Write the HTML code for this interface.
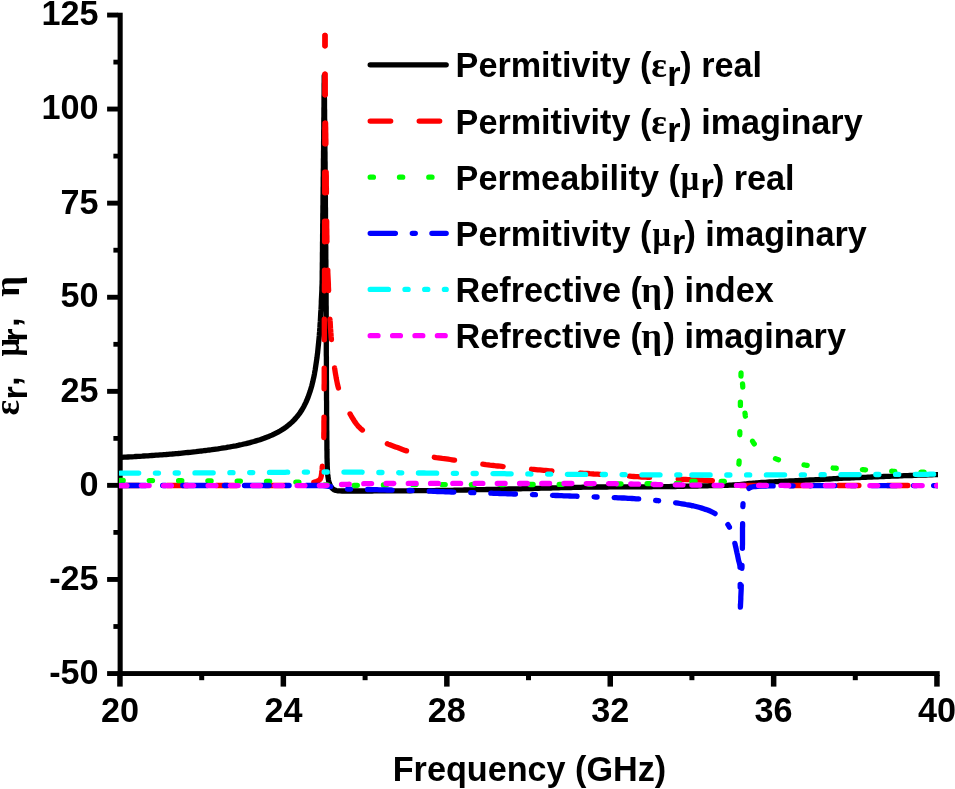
<!DOCTYPE html>
<html><head><meta charset="utf-8"><title>chart</title>
<style>
html,body{margin:0;padding:0;background:#fff;}
svg{display:block;will-change:transform;}
text{font-family:"Liberation Sans",sans-serif;font-weight:bold;font-size:34.2px;fill:#000;}
.c path{fill:none;stroke-width:5.3;stroke-linecap:round;stroke-linejoin:round;}
</style></head><body>
<svg width="955" height="789" viewBox="0 0 955 789">
<rect width="955" height="789" fill="#fff"/>
<defs><clipPath id="pc"><rect x="119" y="0" width="819" height="668"/></clipPath></defs>
<g fill="#000">
<rect x="117.6" y="12.7" width="5.1" height="663.3"/>
<rect x="117.6" y="671.1" width="822.1" height="4.9"/>
<rect x="107.1" y="671.1" width="11" height="4.9"/>
<rect x="107.1" y="577.0" width="11" height="4.9"/>
<rect x="107.1" y="482.9" width="11" height="4.9"/>
<rect x="107.1" y="388.9" width="11" height="4.9"/>
<rect x="107.1" y="294.8" width="11" height="4.9"/>
<rect x="107.1" y="200.7" width="11" height="4.9"/>
<rect x="107.1" y="106.6" width="11" height="4.9"/>
<rect x="107.1" y="12.6" width="11" height="4.9"/>
<rect x="113.4" y="624.1" width="4.6" height="4.8"/>
<rect x="113.4" y="530.0" width="4.6" height="4.8"/>
<rect x="113.4" y="436.0" width="4.6" height="4.8"/>
<rect x="113.4" y="341.9" width="4.6" height="4.8"/>
<rect x="113.4" y="247.8" width="4.6" height="4.8"/>
<rect x="113.4" y="153.7" width="4.6" height="4.8"/>
<rect x="113.4" y="59.7" width="4.6" height="4.8"/>
<rect x="117.2" y="675" width="5.5" height="11.6"/>
<rect x="280.6" y="675" width="5.5" height="11.6"/>
<rect x="444.1" y="675" width="5.5" height="11.6"/>
<rect x="607.5" y="675" width="5.5" height="11.6"/>
<rect x="770.9" y="675" width="5.5" height="11.6"/>
<rect x="934.2" y="675" width="5.5" height="11.6"/>
<rect x="199.2" y="675" width="5" height="5.2"/>
<rect x="362.6" y="675" width="5" height="5.2"/>
<rect x="526.0" y="675" width="5" height="5.2"/>
<rect x="689.4" y="675" width="5" height="5.2"/>
<rect x="852.8" y="675" width="5" height="5.2"/>
</g>
<g class="c" clip-path="url(#pc)">
<path d="M120.0,457.4 L122.0,457.3 L124.0,457.2 L126.0,457.1 L128.0,457.0 L130.0,456.9 L132.0,456.8 L134.0,456.7 L136.0,456.5 L138.0,456.4 L140.0,456.3 L142.0,456.2 L144.0,456.0 L146.0,455.9 L148.0,455.8 L150.0,455.6 L152.0,455.5 L154.0,455.4 L156.0,455.2 L158.0,455.1 L160.0,454.9 L162.0,454.8 L164.0,454.6 L166.0,454.5 L168.0,454.3 L170.0,454.1 L172.0,454.0 L174.0,453.8 L176.0,453.6 L178.0,453.5 L180.0,453.3 L182.0,453.1 L184.0,452.9 L186.0,452.7 L188.0,452.5 L190.0,452.3 L192.0,452.1 L194.0,451.9 L196.0,451.7 L198.0,451.4 L200.0,451.2 L202.0,451.0 L204.0,450.7 L206.0,450.5 L208.0,450.2 L210.0,450.0 L212.0,449.7 L214.0,449.4 L216.0,449.1 L218.0,448.9 L220.0,448.5 L222.0,448.2 L224.0,447.9 L226.0,447.6 L228.0,447.2 L230.0,446.9 L232.0,446.5 L234.0,446.1 L236.0,445.8 L238.0,445.4 L240.0,444.9 L242.0,444.5 L244.0,444.0 L246.0,443.6 L248.0,443.1 L250.0,442.6 L252.0,442.0 L254.0,441.5 L256.0,440.9 L258.0,440.3 L260.0,439.7 L262.0,439.0 L264.0,438.3 L266.0,437.5 L268.0,436.8 L270.0,435.9 L272.0,435.1 L274.0,434.1 L276.0,433.1 L278.0,432.1 L280.0,431.0 L282.0,429.8 L284.0,428.5 L286.0,427.1 L288.0,425.5 L290.0,423.9 L292.0,422.1 L294.0,420.1 L296.0,417.9 L298.0,415.5 L300.0,412.8 L302.0,409.7 L304.0,406.2 L306.0,402.1 L308.0,397.4 L310.0,391.7 L310.6,389.7 L311.2,387.7 L311.8,385.7 L312.3,383.7 L312.8,381.7 L313.2,379.7 L313.7,377.7 L314.1,375.7 L314.5,373.7 L314.8,371.7 L315.2,369.7 L315.5,367.7 L315.8,365.7 L316.1,363.7 L316.4,361.7 L316.7,359.7 L317.0,357.7 L317.2,355.7 L317.5,353.7 L317.7,351.7 L317.9,349.7 L318.1,347.7 L318.3,345.7 L318.5,343.7 L318.7,341.7 L318.9,339.7 L319.1,337.7 L319.3,335.7 L319.4,333.7 L319.6,331.7 L319.7,329.7 L319.9,327.7 L320.0,325.7 L320.1,323.7 L320.3,321.7 L320.4,319.7 L320.5,317.7 L320.6,315.7 L320.7,313.7 L320.8,311.7 L321.0,309.7 L321.1,307.7 L321.2,305.7 L321.3,303.7 L321.3,301.7 L321.4,299.7 L321.5,297.7 L321.6,295.7 L321.7,293.7 L321.8,291.7 L321.9,289.7 L321.9,287.7 L322.0,285.7 L322.1,283.7 L322.1,281.7 L322.2,279.6 L322.2,277.6 L322.2,275.6 L322.2,273.5 L322.2,271.5 L322.3,269.4 L322.3,267.4 L322.3,265.4 L322.3,263.3 L322.4,261.3 L322.4,259.3 L322.4,257.2 L322.4,255.2 L322.4,253.2 L322.5,251.1 L322.5,249.1 L322.5,247.0 L322.5,245.0 L322.5,243.0 L322.6,240.9 L322.6,238.9 L322.6,236.9 L322.6,234.8 L322.7,232.8 L322.7,230.8 L322.7,228.7 L322.7,226.7 L322.7,224.6 L322.8,222.6 L322.8,220.6 L322.8,218.5 L322.8,216.5 L322.8,214.5 L322.9,212.4 L322.9,210.4 L322.9,208.4 L322.9,206.3 L323.0,204.3 L323.0,202.2 L323.0,200.2 L323.0,198.2 L323.0,196.1 L323.1,194.1 L323.1,192.1 L323.1,190.0 L323.1,188.0 L323.2,186.0 L323.2,183.9 L323.2,181.9 L323.2,179.8 L323.2,177.8 L323.3,175.8 L323.3,173.7 L323.3,171.7 L323.3,169.7 L323.4,167.6 L323.4,165.6 L323.4,163.6 L323.4,161.5 L323.4,159.5 L323.5,157.5 L323.5,155.4 L323.5,153.4 L323.5,151.3 L323.6,149.3 L323.6,147.3 L323.6,145.2 L323.6,143.2 L323.6,141.2 L323.7,139.1 L323.7,137.1 L323.7,135.1 L323.7,133.0 L323.7,131.0 L323.8,128.9 L323.8,126.9 L323.8,124.9 L323.8,122.8 L323.8,120.8 L323.8,118.8 L323.9,116.7 L323.9,114.7 L323.9,112.7 L323.9,110.6 L323.9,108.6 L324.0,106.5 L324.0,104.5 L324.0,102.5 L324.0,100.4 L324.0,98.4 L324.0,96.4 L324.1,94.3 L324.1,92.3 L324.1,90.3 L324.1,88.2 L324.1,86.2 L324.1,84.1 L324.2,82.1 L324.2,80.1 L324.2,78.0 L324.2,76.0 L324.2,78.0 L324.2,80.0 L324.3,82.0 L324.3,84.0 L324.3,86.0 L324.3,88.0 L324.4,90.1 L324.4,92.1 L324.4,94.1 L324.4,96.1 L324.4,98.1 L324.5,100.1 L324.5,102.1 L324.5,104.1 L324.5,106.1 L324.5,108.1 L324.6,110.1 L324.6,112.1 L324.6,114.1 L324.6,116.2 L324.6,118.2 L324.7,120.2 L324.7,122.2 L324.7,124.2 L324.7,126.2 L324.7,128.2 L324.8,130.2 L324.8,132.2 L324.8,134.2 L324.8,136.2 L324.8,138.2 L324.9,140.2 L324.9,142.3 L324.9,144.3 L324.9,146.3 L324.9,148.3 L324.9,150.3 L325.0,152.3 L325.0,154.3 L325.0,156.3 L325.0,158.3 L325.0,160.3 L325.1,162.3 L325.1,164.3 L325.1,166.3 L325.1,168.4 L325.1,170.4 L325.1,172.4 L325.2,174.4 L325.2,176.4 L325.2,178.4 L325.2,180.4 L325.2,182.4 L325.2,184.4 L325.3,186.4 L325.3,188.4 L325.3,190.4 L325.3,192.4 L325.3,194.5 L325.4,196.5 L325.4,198.5 L325.4,200.5 L325.4,202.5 L325.4,204.5 L325.4,206.5 L325.5,208.5 L325.5,210.5 L325.5,212.5 L325.5,214.5 L325.5,216.5 L325.5,218.6 L325.6,220.6 L325.6,222.6 L325.6,224.6 L325.6,226.6 L325.6,228.6 L325.6,230.6 L325.7,232.6 L325.7,234.6 L325.7,236.6 L325.7,238.6 L325.7,240.6 L325.7,242.6 L325.7,244.7 L325.8,246.7 L325.8,248.7 L325.8,250.7 L325.8,252.7 L325.8,254.7 L325.8,256.7 L325.8,258.7 L325.9,260.7 L325.9,262.7 L325.9,264.7 L325.9,266.7 L325.9,268.7 L325.9,270.8 L326.0,272.8 L326.0,274.8 L326.0,276.8 L326.0,278.8 L326.0,280.8 L326.0,282.8 L326.0,284.8 L326.0,286.8 L326.1,288.8 L326.1,290.8 L326.1,292.8 L326.1,294.8 L326.1,296.9 L326.1,298.9 L326.1,300.9 L326.1,302.9 L326.1,304.9 L326.2,306.9 L326.2,308.9 L326.2,310.9 L326.2,312.9 L326.2,314.9 L326.2,316.9 L326.2,318.9 L326.2,321.0 L326.2,323.0 L326.2,325.0 L326.2,327.0 L326.2,329.0 L326.3,331.0 L326.3,333.0 L326.3,335.0 L326.3,337.0 L326.3,339.0 L326.3,341.0 L326.3,343.0 L326.3,345.0 L326.3,347.1 L326.3,349.1 L326.3,351.1 L326.3,353.1 L326.3,355.1 L326.4,357.1 L326.4,359.1 L326.4,361.1 L326.4,363.1 L326.4,365.1 L326.4,367.1 L326.4,369.1 L326.4,371.1 L326.4,373.2 L326.4,375.2 L326.4,377.2 L326.4,379.2 L326.5,381.2 L326.5,383.2 L326.5,385.2 L326.5,387.2 L326.5,389.2 L326.5,391.2 L326.5,393.2 L326.5,395.2 L326.5,397.3 L326.5,399.3 L326.6,401.3 L326.6,403.3 L326.6,405.3 L326.6,407.3 L326.6,409.3 L326.6,411.3 L326.6,413.3 L326.6,415.3 L326.7,417.3 L326.7,419.3 L326.7,421.3 L326.7,423.4 L326.7,425.4 L326.7,427.4 L326.7,429.4 L326.8,431.4 L326.8,433.4 L326.8,435.4 L326.8,437.4 L326.8,439.4 L326.9,441.4 L326.9,443.4 L326.9,445.4 L326.9,447.4 L326.9,449.4 L327.0,451.5 L327.0,453.5 L327.0,455.5 L327.0,457.5 L327.1,459.5 L327.1,461.5 L327.2,463.5 L327.2,465.5 L327.3,467.5 L327.4,469.5 L327.5,471.5 L327.6,473.5 L327.8,475.5 L328.1,477.5 L328.4,479.5 L328.8,481.5 L329.4,483.4 L330.2,485.3 L331.2,487.0 L332.5,488.6 L334.1,489.7 L336.0,490.5 L338.0,490.8 L340.0,490.9 L342.0,491.0 L344.0,491.0 L346.0,491.0 L348.0,491.0 L350.1,491.0 L352.1,491.0 L354.1,491.0 L356.1,491.0 L358.1,491.0 L360.1,491.0 L362.1,491.0 L364.1,491.0 L366.1,491.0 L368.1,491.0 L370.1,491.0 L372.1,491.0 L374.1,490.9 L376.2,490.9 L378.2,490.9 L380.2,490.9 L382.2,490.9 L384.2,490.9 L386.2,490.9 L388.2,490.9 L390.2,490.9 L392.2,490.9 L394.2,490.9 L396.2,490.8 L398.2,490.8 L400.2,490.8 L402.3,490.8 L404.3,490.8 L406.3,490.8 L408.3,490.8 L410.3,490.8 L412.3,490.7 L414.3,490.7 L416.3,490.7 L418.3,490.7 L420.3,490.7 L422.3,490.7 L424.3,490.7 L426.3,490.6 L428.4,490.6 L430.4,490.6 L432.4,490.6 L434.4,490.6 L436.4,490.5 L438.4,490.5 L440.4,490.5 L442.4,490.4 L444.4,490.4 L446.4,490.4 L448.4,490.3 L450.4,490.3 L452.4,490.3 L454.5,490.2 L456.5,490.2 L458.5,490.1 L460.5,490.1 L462.5,490.1 L464.5,490.0 L466.5,490.0 L468.5,489.9 L470.5,489.9 L472.5,489.8 L474.5,489.8 L476.5,489.7 L478.5,489.7 L480.6,489.7 L482.6,489.6 L484.6,489.6 L486.6,489.5 L488.6,489.5 L490.6,489.4 L492.6,489.4 L494.6,489.3 L496.6,489.3 L498.6,489.2 L500.6,489.2 L502.6,489.2 L504.6,489.1 L506.6,489.1 L508.7,489.0 L510.7,489.0 L512.7,488.9 L514.7,488.9 L516.7,488.9 L518.7,488.8 L520.7,488.8 L522.7,488.7 L524.7,488.7 L526.7,488.6 L528.7,488.6 L530.7,488.5 L532.7,488.5 L534.8,488.4 L536.8,488.3 L538.8,488.3 L540.8,488.2 L542.8,488.2 L544.8,488.1 L546.8,488.1 L548.8,488.0 L550.8,488.0 L552.8,487.9 L554.8,487.9 L556.8,487.8 L558.8,487.8 L560.8,487.7 L562.9,487.7 L564.9,487.6 L566.9,487.6 L568.9,487.5 L570.9,487.5 L572.9,487.4 L574.9,487.4 L576.9,487.3 L578.9,487.3 L580.9,487.3 L582.9,487.2 L584.9,487.2 L586.9,487.2 L588.9,487.1 L591.0,487.1 L593.0,487.1 L595.0,487.0 L597.0,487.0 L599.0,487.0 L601.0,487.0 L603.0,487.0 L605.0,487.0 L607.0,487.0 L609.0,486.9 L611.0,486.9 L613.0,486.9 L615.0,486.9 L617.1,486.9 L619.1,486.9 L621.1,486.9 L623.1,486.9 L625.1,486.9 L627.1,486.9 L629.1,486.9 L631.1,486.8 L633.1,486.8 L635.1,486.8 L637.1,486.8 L639.1,486.8 L641.2,486.8 L643.2,486.8 L645.2,486.8 L647.2,486.8 L649.2,486.8 L651.2,486.8 L653.2,486.7 L655.2,486.7 L657.2,486.7 L659.2,486.7 L661.2,486.7 L663.2,486.7 L665.2,486.6 L667.3,486.6 L669.3,486.6 L671.3,486.5 L673.3,486.5 L675.3,486.5 L677.3,486.4 L679.3,486.4 L681.3,486.3 L683.3,486.3 L685.3,486.2 L687.3,486.2 L689.3,486.1 L691.3,486.1 L693.3,486.1 L695.4,486.0 L697.4,486.0 L699.4,485.9 L701.4,485.9 L703.4,485.8 L705.4,485.8 L707.4,485.8 L709.4,485.7 L711.4,485.7 L713.4,485.6 L715.4,485.6 L717.4,485.6 L719.5,485.5 L721.5,485.5 L723.5,485.4 L725.5,485.4 L727.5,485.3 L729.5,485.2 L731.5,485.1 L733.5,485.0 L735.5,484.9 L737.5,484.7 L739.5,484.6 L741.5,484.4 L743.5,484.2 L745.5,484.0 L747.5,483.7 L749.5,483.5 L751.5,483.3 L753.5,483.1 L755.5,483.0 L757.5,482.8 L759.5,482.6 L761.5,482.5 L763.5,482.4 L765.5,482.3 L767.5,482.1 L769.5,482.0 L771.5,481.9 L773.5,481.8 L775.5,481.7 L777.5,481.6 L779.5,481.5 L781.5,481.4 L783.5,481.3 L785.5,481.2 L787.6,481.1 L789.6,481.0 L791.6,480.9 L793.6,480.8 L795.6,480.7 L797.6,480.6 L799.6,480.5 L801.6,480.4 L803.6,480.3 L805.6,480.2 L807.6,480.1 L809.6,480.0 L811.6,479.9 L813.6,479.8 L815.6,479.7 L817.6,479.6 L819.6,479.5 L821.6,479.4 L823.6,479.3 L825.7,479.2 L827.7,479.1 L829.7,479.0 L831.7,478.9 L833.7,478.7 L835.7,478.6 L837.7,478.5 L839.7,478.4 L841.7,478.3 L843.7,478.2 L845.7,478.2 L847.7,478.1 L849.7,478.0 L851.7,477.9 L853.7,477.8 L855.7,477.7 L857.7,477.6 L859.7,477.5 L861.8,477.4 L863.8,477.3 L865.8,477.3 L867.8,477.2 L869.8,477.1 L871.8,477.0 L873.8,476.9 L875.8,476.8 L877.8,476.8 L879.8,476.7 L881.8,476.6 L883.8,476.5 L885.8,476.4 L887.8,476.4 L889.8,476.3 L891.8,476.2 L893.9,476.1 L895.9,476.0 L897.9,476.0 L899.9,475.9 L901.9,475.8 L903.9,475.7 L905.9,475.7 L907.9,475.6 L909.9,475.5 L911.9,475.5 L913.9,475.4 L915.9,475.3 L917.9,475.2 L919.9,475.2 L921.9,475.1 L924.0,475.0 L926.0,475.0 L928.0,474.9 L930.0,474.8 L932.0,474.8 L934.0,474.7 L936.0,474.7 L938.0,474.6" stroke="#000"/>
<path d="M325.0,35.5 L325.0,37.5 L325.0,39.5 L325.0,41.5 L325.0,43.5 L325.0,45.6 L325.0,47.6 L325.0,49.6 L325.0,51.6 L325.0,53.6 L325.0,55.6 L325.0,57.6 L325.0,59.6 L325.0,61.6 L325.0,63.6 L325.0,65.7 L325.0,67.7 L325.0,69.7 L325.0,71.7 L324.9,73.7 L324.9,75.7 L324.9,77.7 L324.9,79.7 L324.9,81.7 L324.9,83.7 L324.9,85.8 L324.9,87.8 L324.9,89.8 L324.9,91.8 L324.9,93.8 L324.9,95.8 L324.9,97.8 L324.9,99.8 L324.9,101.8 L324.9,103.9 L324.9,105.9 L324.9,107.9 L324.9,109.9 L324.9,111.9 L324.9,113.9 L324.9,115.9 L324.9,117.9 L324.9,119.9 L324.9,121.9 L324.9,124.0 L324.9,126.0 L324.8,128.0 L324.8,130.0 L324.8,132.0 L324.8,134.0 L324.8,136.0 L324.8,138.0 L324.8,140.0 L324.8,142.0 L324.8,144.1 L324.8,146.1 L324.8,148.1 L324.8,150.1 L324.8,152.1 L324.8,154.1 L324.8,156.1 L324.8,158.1 L324.8,160.1 L324.8,162.2 L324.8,164.2 L324.8,166.2 L324.8,168.2 L324.8,170.2 L324.7,172.2 L324.7,174.2 L324.7,176.2 L324.7,178.2 L324.7,180.2 L324.7,182.3 L324.7,184.3 L324.7,186.3 L324.7,188.3 L324.7,190.3 L324.7,192.3 L324.7,194.3 L324.7,196.3 L324.7,198.3 L324.7,200.3 L324.7,202.4 L324.7,204.4 L324.7,206.4 L324.7,208.4 L324.7,210.4 L324.6,212.4 L324.6,214.4 L324.6,216.4 L324.6,218.4 L324.6,220.5 L324.6,222.5 L324.6,224.5 L324.6,226.5 L324.6,228.5 L324.6,230.5 L324.6,232.5 L324.6,234.5 L324.6,236.5 L324.6,238.5 L324.6,240.6 L324.6,242.6 L324.6,244.6 L324.6,246.6 L324.5,248.6 L324.5,250.6 L324.5,252.6 L324.5,254.6 L324.5,256.6 L324.5,258.6 L324.5,260.7 L324.5,262.7 L324.5,264.7 L324.5,266.7 L324.5,268.7 L324.5,270.7 L324.5,272.7 L324.5,274.7 L324.5,276.7 L324.5,278.7 L324.5,280.8 L324.5,282.8 L324.4,284.8 L324.4,286.8 L324.4,288.8 L324.4,290.8 L324.4,292.8 L324.4,294.8 L324.4,296.8 L324.4,298.9 L324.4,300.9 L324.4,302.9 L324.4,304.9 L324.4,306.9 L324.4,308.9 L324.4,310.9 L324.4,312.9 L324.4,314.9 L324.4,316.9 L324.3,319.0 L324.3,321.0 L324.3,323.0 L324.3,325.0 L324.3,327.0 L324.3,329.0 L324.3,331.0 L324.3,333.0 L324.3,335.0 L324.3,337.0 L324.3,339.1 L324.3,341.1 L324.3,343.1 L324.3,345.1 L324.3,347.1 L324.3,349.1 L324.3,351.1 L324.3,353.1 L324.3,355.1 L324.2,357.2 L324.2,359.2 L324.2,361.2 L324.2,363.2 L324.2,365.2 L324.2,367.2 L324.2,369.2 L324.2,371.2 L324.2,373.2 L324.2,375.2 L324.2,377.3 L324.2,379.3 L324.2,381.3 L324.2,383.3 L324.1,385.3 L324.1,387.3 L324.1,389.3 L324.1,391.3 L324.1,393.3 L324.1,395.4 L324.1,397.4 L324.1,399.4 L324.1,401.4 L324.1,403.4 L324.0,405.4 L324.0,407.4 L324.0,409.4 L324.0,411.4 L324.0,413.4 L324.0,415.5 L324.0,417.5 L324.0,419.5 L323.9,421.5 L323.9,423.5 L323.9,425.5 L323.9,427.5 L323.9,429.5 L323.9,431.5 L323.8,433.5 L323.8,435.6 L323.8,437.6 L323.7,439.6 L323.7,441.6 L323.6,443.6 L323.6,445.6 L323.5,447.6 L323.5,449.6 L323.4,451.6 L323.4,453.6 L323.3,455.6 L323.1,457.7 L322.9,459.7 L322.7,461.7 L322.5,463.7 L322.3,465.7 L322.2,467.7 L322.1,469.7 L321.9,471.7 L321.6,473.7 L321.3,475.8 L320.8,477.8 L320.1,479.4 L318.4,480.6 L316.5,481.5 L314.6,482.1 L312.7,482.7 L310.7,483.2 L308.8,483.7 L306.8,484.3 L304.9,484.8 L302.9,485.2 L300.9,485.5 L298.9,485.5 L297.0,485.5 L295.0,485.5 L293.0,485.5 L291.0,485.5 L289.0,485.5 L287.0,485.5 L285.1,485.5 L283.1,485.5 L281.1,485.5 L279.1,485.5 L277.1,485.5 L275.1,485.5 L273.2,485.5 L271.2,485.5 L269.2,485.5 L267.2,485.5 L265.2,485.5 L263.2,485.5 L261.2,485.5 L259.2,485.5 L257.3,485.5 L255.3,485.5 L253.3,485.5 L251.3,485.5 L249.3,485.5 L247.3,485.5 L245.3,485.5 L243.3,485.5 L241.3,485.5 L239.3,485.5 L237.3,485.5 L235.3,485.5 L233.3,485.5 L231.3,485.5 L229.3,485.5 L227.3,485.5 L225.3,485.5 L223.3,485.5 L221.3,485.5 L219.3,485.5 L217.3,485.5 L215.3,485.5 L213.3,485.5 L211.3,485.5 L209.3,485.5 L207.3,485.5 L205.3,485.5 L203.3,485.5 L201.3,485.5 L199.2,485.5 L197.2,485.5 L195.2,485.5 L193.2,485.5 L191.2,485.5 L189.2,485.5 L187.2,485.5 L185.1,485.5 L183.1,485.5 L181.1,485.5 L179.1,485.5 L177.1,485.5 L175.0,485.5 L173.0,485.5 L171.0,485.5 L169.0,485.5 L166.9,485.5 L164.9,485.5 L162.9,485.5 L160.8,485.5 L158.8,485.5 L156.8,485.5 L154.7,485.5 L152.7,485.5 L150.7,485.5 L148.6,485.5 L146.6,485.5 L144.6,485.5 L142.5,485.5 L140.5,485.5 L138.4,485.5 L136.4,485.5 L134.3,485.5 L132.3,485.5 L130.3,485.5 L128.2,485.5 L126.2,485.5 L124.1,485.5 L122.1,485.5 L120.0,485.5" stroke="#f00" stroke-dasharray="20.5 28.5" stroke-dashoffset="10.25"/>
<path d="M325.0,35.5 L325.0,37.5 L325.0,39.5 L325.0,41.5 L325.0,43.5 L325.0,45.5 L325.0,47.5 L325.0,49.5 L325.0,51.5 L325.0,53.6 L325.0,55.6 L325.0,57.6 L325.1,59.6 L325.1,61.6 L325.1,63.6 L325.1,65.6 L325.1,67.6 L325.1,69.6 L325.1,71.6 L325.1,73.6 L325.1,75.6 L325.1,77.6 L325.2,79.6 L325.2,81.6 L325.2,83.6 L325.2,85.6 L325.2,87.6 L325.2,89.7 L325.2,91.7 L325.3,93.7 L325.3,95.7 L325.3,97.7 L325.3,99.7 L325.3,101.7 L325.3,103.7 L325.4,105.7 L325.4,107.7 L325.4,109.7 L325.4,111.7 L325.4,113.7 L325.5,115.7 L325.5,117.7 L325.5,119.7 L325.6,121.7 L325.6,123.7 L325.6,125.8 L325.7,127.8 L325.7,129.8 L325.7,131.8 L325.8,133.8 L325.8,135.8 L325.8,137.8 L325.9,139.8 L325.9,141.8 L325.9,143.8 L325.9,145.8 L326.0,147.8 L326.0,149.8 L326.0,151.8 L326.0,153.8 L326.1,155.8 L326.1,157.8 L326.1,159.8 L326.1,161.9 L326.2,163.9 L326.2,165.9 L326.2,167.9 L326.2,169.9 L326.2,171.9 L326.2,173.9 L326.3,175.9 L326.3,177.9 L326.3,179.9 L326.3,181.9 L326.3,183.9 L326.3,185.9 L326.4,187.9 L326.4,189.9 L326.4,191.9 L326.4,193.9 L326.4,195.9 L326.4,198.0 L326.5,200.0 L326.5,202.0 L326.5,204.0 L326.5,206.0 L326.5,208.0 L326.5,210.0 L326.6,212.0 L326.6,214.0 L326.6,216.0 L326.6,218.0 L326.7,220.0 L326.7,222.0 L326.7,224.0 L326.7,226.0 L326.7,228.0 L326.8,230.0 L326.8,232.0 L326.8,234.1 L326.9,236.1 L326.9,238.1 L326.9,240.1 L327.0,242.1 L327.0,244.1 L327.0,246.1 L327.1,248.1 L327.1,250.1 L327.2,252.1 L327.2,254.1 L327.3,256.1 L327.3,258.1 L327.4,260.1 L327.5,262.1 L327.5,264.1 L327.6,266.1 L327.7,268.1 L327.8,270.1 L327.8,272.1 L327.9,274.1 L328.0,276.2 L328.1,278.2 L328.2,280.2 L328.3,282.2 L328.4,284.2 L328.4,286.2 L328.5,288.2 L328.6,290.2 L328.7,292.2 L328.8,294.2 L328.9,296.2 L329.0,298.2 L329.1,300.2 L329.1,302.2 L329.2,304.2 L329.3,306.2 L329.4,308.2 L329.5,310.2 L329.6,312.2 L329.7,314.2 L329.8,316.2 L329.9,318.2 L330.0,320.2 L330.2,322.2 L330.3,324.2 L330.4,326.2 L330.5,328.2 L330.7,330.2 L330.8,332.2 L331.0,334.2 L331.1,336.2 L331.3,338.2 L331.5,340.2 L331.6,342.2 L331.8,344.2 L332.0,346.2 L332.2,348.2 L332.4,350.2 L332.6,352.2 L332.9,354.2 L333.1,356.2 L333.3,358.2 L333.6,360.2 L333.8,362.2 L334.1,364.2 L334.4,366.2 L334.6,368.1 L334.9,370.1 L335.2,372.1 L335.5,374.1 L335.9,376.1 L336.2,378.1 L336.6,380.1 L337.0,382.0 L337.4,384.0 L337.9,386.0 L338.4,387.9 L338.9,389.8 L339.4,391.7 L340.1,393.6 L340.8,395.4 L341.5,397.3 L342.3,399.2 L343.2,401.0 L344.0,402.8 L344.9,404.7 L345.9,406.5 L346.8,408.2 L347.8,410.0 L348.8,411.8 L349.8,413.5 L350.8,415.2 L351.8,417.0 L352.9,418.7 L354.0,420.5 L355.1,422.2 L356.3,423.8 L357.6,425.4 L358.9,426.9 L360.2,428.2 L361.6,429.4 L363.1,430.6 L364.7,431.8 L366.3,432.9 L368.0,434.0 L369.7,435.1 L371.5,436.1 L373.3,437.1 L375.2,438.1 L377.0,439.0 L378.9,439.9 L380.7,440.8 L382.6,441.7 L384.4,442.5 L386.2,443.3 L388.1,444.1 L389.9,444.8 L391.8,445.5 L393.7,446.2 L395.6,446.9 L397.5,447.6 L399.4,448.3 L401.2,449.0 L403.1,449.7 L405.0,450.4 L406.9,451.0 L408.8,451.5 L410.8,452.1 L412.7,452.6 L414.6,453.1 L416.6,453.6 L418.5,454.1 L420.5,454.6 L422.5,455.0 L424.4,455.4 L426.4,455.9 L428.4,456.2 L430.3,456.6 L432.3,457.0 L434.3,457.3 L436.3,457.6 L438.2,457.8 L440.2,458.1 L442.2,458.4 L444.2,458.6 L446.2,458.9 L448.2,459.2 L450.2,459.5 L452.2,459.8 L454.1,460.1 L456.1,460.4 L458.1,460.6 L460.1,460.9 L462.1,461.2 L464.1,461.5 L466.0,461.8 L468.0,462.1 L470.0,462.4 L472.0,462.7 L474.0,463.0 L476.0,463.3 L478.0,463.5 L479.9,463.8 L481.9,464.1 L483.9,464.3 L485.9,464.6 L487.9,464.8 L489.9,465.1 L491.9,465.3 L493.9,465.5 L495.9,465.8 L497.9,466.0 L499.9,466.2 L501.8,466.4 L503.8,466.6 L505.8,466.8 L507.8,467.0 L509.8,467.2 L511.8,467.4 L513.8,467.6 L515.8,467.8 L517.8,468.0 L519.8,468.2 L521.8,468.4 L523.8,468.6 L525.8,468.7 L527.8,468.9 L529.8,469.1 L531.8,469.3 L533.8,469.4 L535.8,469.6 L537.8,469.8 L539.8,469.9 L541.8,470.1 L543.8,470.3 L545.8,470.4 L547.8,470.6 L549.8,470.8 L551.8,470.9 L553.8,471.1 L555.8,471.2 L557.8,471.4 L559.8,471.5 L561.8,471.7 L563.8,471.8 L565.8,472.0 L567.8,472.1 L569.8,472.3 L571.8,472.4 L573.8,472.6 L575.8,472.7 L577.8,472.9 L579.8,473.0 L581.8,473.1 L583.8,473.3 L585.8,473.4 L587.8,473.5 L589.8,473.7 L591.8,473.8 L593.8,474.0 L595.8,474.1 L597.8,474.2 L599.8,474.4 L601.8,474.5 L603.8,474.6 L605.8,474.7 L607.8,474.9 L609.8,475.0 L611.8,475.1 L613.8,475.3 L615.8,475.4 L617.8,475.5 L619.8,475.6 L621.8,475.8 L623.8,475.9 L625.8,476.0 L627.8,476.1 L629.8,476.2 L631.8,476.4 L633.8,476.5 L635.8,476.6 L637.8,476.7 L639.8,476.9 L641.8,477.0 L643.8,477.1 L645.8,477.2 L647.8,477.3 L649.8,477.4 L651.8,477.6 L653.9,477.7 L655.9,477.8 L657.9,477.9 L659.9,478.0 L661.9,478.1 L663.9,478.3 L665.9,478.4 L667.9,478.5 L669.9,478.6 L671.9,478.7 L673.9,478.8 L675.9,478.9 L677.9,479.0 L679.9,479.1 L681.9,479.3 L683.9,479.4 L685.9,479.5 L687.9,479.6 L689.9,479.7 L691.9,479.8" stroke="#f00" stroke-dasharray="20.5 28.5" stroke-dashoffset="10.25"/>
<path d="M691.9,479.8 L693.9,479.9 L695.9,479.9 L698.0,480.0 L700.0,480.1 L702.0,480.2 L704.0,480.3 L706.0,480.4 L708.1,480.5 L710.1,480.6 L712.1,480.7 L714.1,480.9 L716.1,481.2 L718.1,481.5 L720.1,481.8 L722.1,482.2 L724.1,482.7 L726.0,483.2 L728.0,483.7 L729.9,484.2 L731.9,484.6 L733.9,484.9 L735.9,485.1 L737.9,485.4 L739.9,485.5 L742.0,485.5 L744.0,485.5 L746.0,485.5 L748.0,485.5 L750.0,485.5 L752.0,485.5 L754.0,485.5 L756.1,485.5 L758.1,485.5 L760.1,485.5 L762.1,485.5 L764.1,485.5 L766.1,485.5 L768.2,485.5 L770.2,485.5 L772.2,485.5 L774.2,485.5 L776.2,485.5 L778.2,485.5 L780.3,485.5 L782.3,485.5 L784.3,485.5 L786.3,485.5 L788.3,485.5 L790.3,485.5 L792.3,485.5 L794.4,485.5 L796.4,485.5 L798.4,485.5 L800.4,485.5 L802.4,485.5 L804.5,485.5 L806.5,485.5 L808.5,485.5 L810.5,485.5 L812.5,485.5 L814.5,485.5 L816.6,485.5 L818.6,485.5 L820.6,485.5 L822.6,485.5 L824.6,485.5 L826.7,485.5 L828.7,485.5 L830.7,485.5 L832.7,485.5 L834.7,485.5 L836.8,485.5 L838.8,485.5 L840.8,485.5 L842.8,485.5 L844.8,485.5 L846.9,485.5 L848.9,485.5 L850.9,485.5 L852.9,485.5 L854.9,485.5 L857.0,485.5 L859.0,485.5 L861.0,485.5 L863.0,485.5 L865.1,485.5 L867.1,485.5 L869.1,485.5 L871.1,485.5 L873.1,485.5 L875.2,485.5 L877.2,485.5 L879.2,485.5 L881.2,485.5 L883.3,485.5 L885.3,485.5 L887.3,485.5 L889.3,485.5 L891.4,485.5 L893.4,485.5 L895.4,485.5 L897.4,485.5 L899.5,485.5 L901.5,485.5 L903.5,485.5 L905.5,485.5 L907.6,485.5 L909.6,485.5 L911.6,485.5 L913.7,485.5 L915.7,485.5 L917.7,485.5 L919.7,485.5 L921.8,485.5 L923.8,485.5 L925.8,485.5 L927.9,485.5 L929.9,485.5 L931.9,485.5 L933.9,485.5 L936.0,485.5 L938.0,485.5" stroke="#f00" stroke-dasharray="20.5 28.5" stroke-dashoffset="0"/>
<path d="M120.0,480.5 L122.0,480.5 L124.0,480.5 L126.0,480.5 L128.0,480.5 L130.0,480.5 L132.0,480.5 L134.1,480.5 L136.1,480.5 L138.1,480.5 L140.1,480.5 L142.1,480.5 L144.1,480.6 L146.1,480.6 L148.1,480.6 L150.1,480.6 L152.1,480.6 L154.1,480.6 L156.1,480.6 L158.1,480.6 L160.1,480.6 L162.2,480.6 L164.2,480.6 L166.2,480.6 L168.2,480.6 L170.2,480.7 L172.2,480.7 L174.2,480.7 L176.2,480.7 L178.2,480.7 L180.2,480.7 L182.2,480.7 L184.2,480.7 L186.2,480.7 L188.3,480.7 L190.3,480.7 L192.3,480.8 L194.3,480.8 L196.3,480.8 L198.3,480.8 L200.3,480.8 L202.3,480.8 L204.3,480.8 L206.3,480.8 L208.3,480.8 L210.3,480.9 L212.3,480.9 L214.4,480.9 L216.4,480.9 L218.4,480.9 L220.4,480.9 L222.4,480.9 L224.4,481.0 L226.4,481.0 L228.4,481.0 L230.4,481.0 L232.4,481.0 L234.4,481.0 L236.4,481.1 L238.4,481.1 L240.4,481.1 L242.5,481.1 L244.5,481.1 L246.5,481.1 L248.5,481.2 L250.5,481.2 L252.5,481.2 L254.5,481.2 L256.5,481.3 L258.5,481.3 L260.5,481.3 L262.5,481.3 L264.5,481.4 L266.5,481.4 L268.6,481.4 L270.6,481.5 L272.6,481.5 L274.6,481.5 L276.6,481.6 L278.6,481.6 L280.6,481.6 L282.6,481.7 L284.6,481.7 L286.6,481.8 L288.6,481.8 L290.6,481.9 L292.6,482.0 L294.6,482.0 L296.6,482.1 L298.7,482.1 L300.7,482.2 L302.7,482.3 L304.7,482.4 L306.7,482.5 L308.7,482.6 L310.7,482.7 L312.7,482.8 L314.7,483.0 L316.7,483.2 L318.6,483.6 L320.6,484.1 L322.6,484.5 L324.6,484.8 L326.6,485.0 L328.6,485.2 L330.6,485.4 L332.6,485.4 L334.6,485.4 L336.6,485.4 L338.6,485.4 L340.6,485.4 L342.6,485.4 L344.6,485.4 L346.6,485.3 L348.6,485.3 L350.6,485.3 L352.6,485.3 L354.7,485.3 L356.7,485.3 L358.7,485.3 L360.7,485.3 L362.7,485.2 L364.7,485.2 L366.7,485.2 L368.7,485.2 L370.7,485.1 L372.7,485.1 L374.7,485.1 L376.7,485.1 L378.7,485.0 L380.7,485.0 L382.8,485.0 L384.8,485.0 L386.8,484.9 L388.8,484.9 L390.8,484.9 L392.8,484.8 L394.8,484.8 L396.8,484.8 L398.8,484.8 L400.8,484.7 L402.8,484.7 L404.8,484.7 L406.8,484.7 L408.8,484.7 L410.9,484.6 L412.9,484.6 L414.9,484.6 L416.9,484.6 L418.9,484.6 L420.9,484.6 L422.9,484.6 L424.9,484.6 L426.9,484.6 L428.9,484.6 L430.9,484.6 L432.9,484.6 L434.9,484.6 L437.0,484.6 L439.0,484.6 L441.0,484.6 L443.0,484.6 L445.0,484.6 L447.0,484.6 L449.0,484.6 L451.0,484.6 L453.0,484.6 L455.0,484.6 L457.0,484.6 L459.0,484.6 L461.0,484.6 L463.1,484.6 L465.1,484.6 L467.1,484.6 L469.1,484.6 L471.1,484.6 L473.1,484.5 L475.1,484.5 L477.1,484.5 L479.1,484.5 L481.1,484.5 L483.1,484.5 L485.1,484.5 L487.1,484.5 L489.1,484.5 L491.2,484.5 L493.2,484.5 L495.2,484.5 L497.2,484.5 L499.2,484.5 L501.2,484.5 L503.2,484.5 L505.2,484.5 L507.2,484.5 L509.2,484.5 L511.2,484.5 L513.2,484.5 L515.2,484.5 L517.3,484.5 L519.3,484.5 L521.3,484.5 L523.3,484.5 L525.3,484.5 L527.3,484.5 L529.3,484.5 L531.3,484.5 L533.3,484.5 L535.3,484.5 L537.3,484.5 L539.3,484.5 L541.3,484.5 L543.4,484.5 L545.4,484.4 L547.4,484.4 L549.4,484.4 L551.4,484.4 L553.4,484.4 L555.4,484.4 L557.4,484.4 L559.4,484.4 L561.4,484.3 L563.4,484.3 L565.4,484.3 L567.4,484.3 L569.4,484.3 L571.5,484.2 L573.5,484.2 L575.5,484.2 L577.5,484.2 L579.5,484.2 L581.5,484.2 L583.5,484.1 L585.5,484.1 L587.5,484.1 L589.5,484.1 L591.5,484.1 L593.5,484.0 L595.5,484.0 L597.6,484.0 L599.6,484.0 L601.6,484.0 L603.6,483.9 L605.6,483.9 L607.6,483.9 L609.6,483.9 L611.6,483.9 L613.6,483.9 L615.6,483.8 L617.6,483.8 L619.6,483.8 L621.6,483.8 L623.6,483.8 L625.7,483.8 L627.7,483.7 L629.7,483.7 L631.7,483.7 L633.7,483.7 L635.7,483.7 L637.7,483.7 L639.7,483.6 L641.7,483.6 L643.7,483.6 L645.7,483.6 L647.7,483.6 L649.7,483.6 L651.8,483.6 L653.8,483.5 L655.8,483.5 L657.8,483.5 L659.8,483.5 L661.8,483.5 L663.8,483.5 L665.8,483.5 L667.8,483.4 L669.8,483.4 L671.8,483.4 L673.8,483.4 L675.8,483.4 L677.8,483.4 L679.9,483.4 L681.9,483.4 L683.9,483.3 L685.9,483.3 L687.9,483.3 L689.9,483.3 L691.9,483.3" stroke="#0f0" stroke-dasharray="3.2 26.1" stroke-dashoffset="0"/>
<path d="M691.9,481.4 L693.9,481.4 L696.0,481.4 L698.0,481.4 L700.1,481.5 L702.1,481.5 L704.2,481.5 L706.2,481.5 L708.2,481.5 L710.3,481.5 L712.3,481.5 L714.4,481.5 L716.4,481.5 L718.4,481.5 L720.5,481.5 L722.5,481.5 L724.6,481.4 L726.8,481.3 L728.8,481.1 L730.7,480.8 L732.4,480.2 L734.1,478.8 L735.4,477.0 L736.3,475.3 L737.0,473.4 L737.5,471.4 L737.9,469.3 L738.3,467.3 L738.7,465.3 L739.0,463.3 L739.1,461.3 L739.2,459.2 L739.3,457.2 L739.4,455.2 L739.4,453.1 L739.5,451.1 L739.5,449.0 L739.6,447.0 L739.6,445.0 L739.6,442.9 L739.7,440.9 L739.7,438.8 L739.7,436.8 L739.8,434.7 L739.8,432.7 L739.9,430.7 L739.9,428.6 L739.9,426.6 L740.0,424.5 L740.0,422.5 L740.1,420.5 L740.1,418.4 L740.1,416.4 L740.2,414.3 L740.2,412.3 L740.3,410.3 L740.3,408.2 L740.4,406.2 L740.4,404.1 L740.4,402.1 L740.5,400.1 L740.5,398.0 L740.6,396.0 L740.6,394.0 L740.6,391.9 L740.7,389.9 L740.7,387.8 L740.8,385.8 L740.8,383.8 L740.8,381.7 L740.9,379.7 L740.9,377.6 L741.0,375.6 L741.0,373.6 L741.1,371.5 L741.1,369.5 L741.2,367.4 L741.2,365.4 L741.3,367.4 L741.5,369.4 L741.6,371.5 L741.8,373.5 L741.9,375.5 L742.1,377.5 L742.2,379.5 L742.4,381.6 L742.5,383.6 L742.7,385.6 L742.8,387.6 L743.0,389.6 L743.1,391.7 L743.3,393.7 L743.4,395.7 L743.6,397.7 L743.7,399.8 L743.9,401.8 L744.0,403.8 L744.2,405.8 L744.4,407.9 L744.6,409.9 L744.8,411.9 L745.1,413.8 L745.3,415.8 L745.6,417.9 L746.0,419.9 L746.4,422.0 L746.8,424.1 L747.3,426.2 L747.8,428.3 L748.4,430.4 L749.0,432.4 L749.6,434.3 L750.3,436.2 L751.0,438.0 L751.8,439.7 L752.6,441.3 L753.4,442.7 L754.5,444.2 L755.7,445.7 L757.1,447.1 L758.6,448.5 L760.2,449.9 L761.9,451.2 L763.7,452.4 L765.5,453.7 L767.4,454.8 L769.4,455.9 L771.3,456.8 L773.2,457.7 L775.1,458.5 L777.0,459.2 L778.8,459.8 L780.6,460.4 L782.5,460.9 L784.4,461.4 L786.4,461.9 L788.4,462.3 L790.4,462.7 L792.4,463.1 L794.5,463.5 L796.5,463.8 L798.5,464.1 L800.6,464.5 L802.6,464.7 L804.7,465.0 L806.7,465.3 L808.7,465.6 L810.7,465.8 L812.7,466.1 L814.7,466.3 L816.7,466.5 L818.7,466.7 L820.7,466.9 L822.7,467.1 L824.8,467.3 L826.8,467.5 L828.8,467.7 L830.8,467.8 L832.8,468.0 L834.9,468.2 L836.9,468.3 L838.9,468.4 L840.9,468.6 L842.9,468.7 L845.0,468.8 L847.0,468.9 L849.0,469.0 L851.0,469.1 L853.0,469.2 L855.1,469.3 L857.1,469.4 L859.1,469.5 L861.1,469.6 L863.2,469.7 L865.2,469.8 L867.2,470.0 L869.2,470.1 L871.2,470.2 L873.3,470.3 L875.3,470.4 L877.3,470.5 L879.3,470.6 L881.3,470.7 L883.4,470.8 L885.4,470.9 L887.4,471.0 L889.4,471.1 L891.5,471.2 L893.5,471.3 L895.5,471.4 L897.5,471.4 L899.6,471.5 L901.6,471.6 L903.6,471.6 L905.6,471.7 L907.6,471.8 L909.7,471.8 L911.7,471.9 L913.7,471.9 L915.7,472.0 L917.8,472.1 L919.8,472.1 L921.8,472.2 L923.8,472.2 L925.9,472.3 L927.9,472.3 L929.9,472.4 L931.9,472.4 L934.0,472.5 L936.0,472.5 L938.0,472.6" stroke="#0f0" stroke-dasharray="3.2 26.1" stroke-dashoffset="0"/>
<path d="M120.0,485.5 L122.0,485.5 L124.0,485.5 L126.1,485.5 L128.1,485.5 L130.1,485.5 L132.1,485.5 L134.2,485.5 L136.2,485.5 L138.2,485.5 L140.2,485.5 L142.2,485.5 L144.3,485.5 L146.3,485.5 L148.3,485.5 L150.3,485.5 L152.3,485.5 L154.3,485.5 L156.4,485.5 L158.4,485.5 L160.4,485.5 L162.4,485.5 L164.4,485.5 L166.4,485.5 L168.5,485.5 L170.5,485.5 L172.5,485.5 L174.5,485.5 L176.5,485.5 L178.5,485.5 L180.5,485.5 L182.6,485.5 L184.6,485.5 L186.6,485.5 L188.6,485.5 L190.6,485.5 L192.6,485.5 L194.6,485.5 L196.6,485.5 L198.7,485.5 L200.7,485.5 L202.7,485.5 L204.7,485.5 L206.7,485.5 L208.7,485.5 L210.7,485.5 L212.7,485.5 L214.7,485.5 L216.7,485.5 L218.8,485.5 L220.8,485.5 L222.8,485.5 L224.8,485.5 L226.8,485.5 L228.8,485.5 L230.8,485.5 L232.8,485.5 L234.8,485.5 L236.8,485.5 L238.8,485.5 L240.8,485.5 L242.9,485.5 L244.9,485.5 L246.9,485.5 L248.9,485.5 L250.9,485.5 L252.9,485.5 L254.9,485.5 L256.9,485.5 L258.9,485.5 L260.9,485.5 L262.9,485.5 L264.9,485.5 L266.9,485.5 L268.9,485.5 L270.9,485.5 L272.9,485.5 L274.9,485.5 L276.9,485.5 L278.9,485.5 L280.9,485.5 L282.9,485.5 L284.9,485.5 L287.0,485.5 L289.0,485.5 L291.0,485.5 L293.0,485.5 L295.0,485.5 L297.0,485.5 L299.0,485.5 L301.0,485.5 L303.0,485.5 L305.0,485.5 L307.0,485.5 L309.0,485.5 L311.0,485.5 L313.0,485.5 L315.0,485.5 L317.0,485.5 L319.0,485.5 L321.0,485.5 L323.0,485.6 L325.0,485.8 L327.0,486.1 L329.0,486.4 L331.0,486.7 L333.0,487.0 L334.9,487.5 L336.9,488.1 L338.8,488.6 L340.8,488.7 L342.8,488.8 L344.8,488.9 L346.8,489.0 L348.8,489.1 L350.8,489.1 L352.8,489.1 L354.8,489.2 L356.9,489.2 L358.9,489.3 L360.9,489.3 L362.9,489.4 L364.9,489.4 L366.9,489.5 L368.9,489.5 L370.9,489.6 L372.9,489.6 L375.0,489.7 L377.0,489.7 L379.0,489.8 L381.0,489.8 L383.0,489.9 L385.0,489.9 L387.0,490.0 L389.0,490.0 L391.0,490.0 L393.0,490.1 L395.0,490.1 L397.1,490.2 L399.1,490.2 L401.1,490.3 L403.1,490.3 L405.1,490.4 L407.1,490.4 L409.1,490.5 L411.1,490.5 L413.1,490.6 L415.1,490.7 L417.1,490.7 L419.2,490.8 L421.2,490.8 L423.2,490.9 L425.2,491.0 L427.2,491.1 L429.2,491.2 L431.2,491.2 L433.2,491.3 L435.2,491.4 L437.2,491.5 L439.2,491.6 L441.2,491.6 L443.3,491.7 L445.3,491.8 L447.3,491.9 L449.3,491.9 L451.3,492.0 L453.3,492.1 L455.3,492.1 L457.3,492.2 L459.3,492.2 L461.3,492.3 L463.3,492.4 L465.4,492.4 L467.4,492.5 L469.4,492.6 L471.4,492.6 L473.4,492.7 L475.4,492.7 L477.4,492.8 L479.4,492.9 L481.4,492.9 L483.4,493.0 L485.4,493.0 L487.5,493.1 L489.5,493.2 L491.5,493.2 L493.5,493.3 L495.5,493.4 L497.5,493.4 L499.5,493.5 L501.5,493.6 L503.5,493.6 L505.5,493.7 L507.5,493.8 L509.5,493.8 L511.6,493.9 L513.6,494.0 L515.6,494.0 L517.6,494.1 L519.6,494.2 L521.6,494.2 L523.6,494.3 L525.6,494.4 L527.6,494.5 L529.6,494.5 L531.6,494.6 L533.7,494.7 L535.7,494.7 L537.7,494.8 L539.7,494.9 L541.7,495.0 L543.7,495.0 L545.7,495.1 L547.7,495.2 L549.7,495.2 L551.7,495.3 L553.7,495.4 L555.7,495.5 L557.8,495.5 L559.8,495.6 L561.8,495.7 L563.8,495.8 L565.8,495.8 L567.8,495.9 L569.8,496.0 L571.8,496.1 L573.8,496.1 L575.8,496.2 L577.8,496.3 L579.8,496.3 L581.9,496.4 L583.9,496.5 L585.9,496.6 L587.9,496.7 L589.9,496.7 L591.9,496.8 L593.9,496.9 L595.9,497.0 L597.9,497.0 L599.9,497.1 L601.9,497.2 L604.0,497.3 L606.0,497.3 L608.0,497.4 L610.0,497.5 L612.0,497.5 L614.0,497.6 L616.0,497.7 L618.0,497.8 L620.0,497.9 L622.0,498.0 L624.0,498.0 L626.0,498.1 L628.0,498.3 L630.1,498.4 L632.1,498.5 L634.1,498.6 L636.1,498.8 L638.1,498.9 L640.1,499.1 L642.1,499.2 L644.1,499.4 L646.1,499.6 L648.1,499.7 L650.1,499.9 L652.1,500.1 L654.1,500.3 L656.1,500.5 L658.1,500.7 L660.1,500.9 L662.1,501.1 L664.1,501.3 L666.1,501.6 L668.1,501.8 L670.1,502.1 L672.1,502.3 L674.1,502.6 L676.1,502.9 L678.0,503.2 L680.0,503.5 L682.0,503.8 L684.0,504.1 L686.0,504.5 L687.9,504.8 L689.9,505.2 L691.9,505.6" stroke="#00f" stroke-dasharray="24.6 17 3 17.1" stroke-dashoffset="-1.1"/>
<path d="M691.9,505.6 L693.9,506.0 L695.9,506.5 L697.9,507.0 L699.8,507.5 L701.8,508.1 L703.7,508.7 L705.6,509.4 L707.6,510.0 L709.5,510.8 L711.3,511.6 L713.1,512.5 L714.9,513.5 L716.6,514.6 L718.3,515.7 L719.9,516.9 L721.5,518.2 L723.2,519.5 L724.7,520.9 L726.1,522.3 L727.4,523.9 L728.5,525.5 L729.5,527.3 L730.3,529.2 L731.1,531.1 L731.9,533.0 L732.5,534.9 L733.1,536.8 L733.7,538.8 L734.2,540.8 L734.7,542.7 L735.2,544.7 L735.6,546.7 L736.1,548.7 L736.5,550.6 L736.9,552.6 L737.4,554.6 L737.8,556.6 L738.2,558.6 L738.6,560.6 L739.2,562.6 L739.7,564.6 L740.0,566.6 L740.0,568.6 L740.1,570.6 L740.1,572.6 L740.1,574.6 L740.1,576.7 L740.2,578.7 L740.2,580.8 L740.2,582.8 L740.2,584.8 L740.2,586.9 L740.2,588.9 L740.3,590.9 L740.3,593.0 L740.3,595.0 L740.3,597.0 L740.3,599.1 L740.3,601.1 L740.4,603.1 L740.4,605.2 L740.4,607.2 L740.5,605.2 L740.6,603.2 L740.7,601.1 L740.8,599.1 L740.8,597.1 L740.9,595.1 L741.0,593.0 L741.1,591.0 L741.2,589.0 L741.2,587.0 L741.3,584.9 L741.4,582.9 L741.5,580.9 L741.5,578.9 L741.6,576.8 L741.7,574.8 L741.8,572.8 L741.8,570.8 L741.9,568.7 L742.0,566.7 L742.0,564.7 L742.1,562.7 L742.2,560.6 L742.2,558.6 L742.3,556.6 L742.3,554.6 L742.4,552.5 L742.4,550.5 L742.4,548.5 L742.4,546.5 L742.5,544.4 L742.5,542.4 L742.5,540.4 L742.5,538.4 L742.5,536.3 L742.5,534.3 L742.5,532.3 L742.5,530.3 L742.5,528.2 L742.6,526.2 L742.6,524.2 L742.6,522.2 L742.6,520.1 L742.6,518.1 L742.7,516.1 L742.7,514.0 L742.7,512.0 L742.8,510.0 L742.8,508.0 L742.9,505.9 L743.0,503.9 L743.1,501.9 L743.2,499.8 L743.4,497.8 L743.7,495.9 L744.6,494.0 L745.6,492.2 L746.8,490.6 L748.2,489.0 L749.8,487.8 L751.7,487.0 L753.7,486.7 L755.6,486.5 L757.6,486.3 L759.6,486.2 L761.7,486.1 L763.7,486.0 L765.8,486.0 L767.8,485.9 L769.9,485.9 L771.9,485.9 L773.9,485.9 L775.9,485.9 L778.0,485.9 L780.0,485.9 L782.0,485.9 L784.0,485.8 L786.1,485.8 L788.1,485.8 L790.1,485.8 L792.1,485.8 L794.2,485.8 L796.2,485.8 L798.2,485.8 L800.2,485.8 L802.3,485.8 L804.3,485.8 L806.3,485.8 L808.3,485.8 L810.4,485.8 L812.4,485.7 L814.4,485.7 L816.4,485.7 L818.5,485.7 L820.5,485.7 L822.5,485.7 L824.5,485.7 L826.6,485.7 L828.6,485.7 L830.6,485.7 L832.6,485.7 L834.7,485.7 L836.7,485.7 L838.7,485.7 L840.7,485.7 L842.8,485.7 L844.8,485.7 L846.8,485.7 L848.8,485.7 L850.9,485.7 L852.9,485.7 L854.9,485.7 L856.9,485.7 L859.0,485.6 L861.0,485.6 L863.0,485.6 L865.0,485.6 L867.1,485.6 L869.1,485.6 L871.1,485.6 L873.1,485.6 L875.2,485.6 L877.2,485.6 L879.2,485.6 L881.2,485.6 L883.3,485.6 L885.3,485.6 L887.3,485.6 L889.4,485.6 L891.4,485.6 L893.4,485.6 L895.4,485.6 L897.5,485.6 L899.5,485.6 L901.5,485.6 L903.5,485.6 L905.6,485.6 L907.6,485.6 L909.6,485.6 L911.6,485.6 L913.7,485.6 L915.7,485.6 L917.7,485.6 L919.8,485.6 L921.8,485.6 L923.8,485.6 L925.8,485.6 L927.9,485.6 L929.9,485.6 L931.9,485.6 L933.9,485.6 L936.0,485.6 L938.0,485.6" stroke="#00f" stroke-dasharray="24.6 17 3 17.1" stroke-dashoffset="0"/>
<path d="M120.0,473.2 L122.0,473.2 L124.0,473.2 L126.0,473.2 L128.1,473.2 L130.1,473.2 L132.1,473.2 L134.1,473.2 L136.1,473.2 L138.1,473.1 L140.1,473.1 L142.2,473.1 L144.2,473.1 L146.2,473.1 L148.2,473.1 L150.2,473.1 L152.2,473.1 L154.2,473.1 L156.2,473.1 L158.3,473.1 L160.3,473.1 L162.3,473.1 L164.3,473.1 L166.3,473.0 L168.3,473.0 L170.3,473.0 L172.4,473.0 L174.4,473.0 L176.4,473.0 L178.4,473.0 L180.4,473.0 L182.4,473.0 L184.4,473.0 L186.5,473.0 L188.5,472.9 L190.5,472.9 L192.5,472.9 L194.5,472.9 L196.5,472.9 L198.5,472.9 L200.6,472.9 L202.6,472.9 L204.6,472.9 L206.6,472.8 L208.6,472.8 L210.6,472.8 L212.6,472.8 L214.6,472.8 L216.7,472.8 L218.7,472.8 L220.7,472.8 L222.7,472.8 L224.7,472.7 L226.7,472.7 L228.7,472.7 L230.8,472.7 L232.8,472.7 L234.8,472.7 L236.8,472.7 L238.8,472.7 L240.8,472.7 L242.8,472.6 L244.9,472.6 L246.9,472.6 L248.9,472.6 L250.9,472.6 L252.9,472.6 L254.9,472.6 L256.9,472.6 L258.9,472.5 L261.0,472.5 L263.0,472.5 L265.0,472.5 L267.0,472.5 L269.0,472.4 L271.0,472.4 L273.0,472.4 L275.1,472.4 L277.1,472.4 L279.1,472.3 L281.1,472.3 L283.1,472.3 L285.1,472.3 L287.1,472.2 L289.2,472.2 L291.2,472.2 L293.2,472.2 L295.2,472.2 L297.2,472.1 L299.2,472.1 L301.2,472.1 L303.3,472.1 L305.3,472.1 L307.3,472.1 L309.3,472.1 L311.3,472.0 L313.3,472.0 L315.3,472.0 L317.3,472.0 L319.4,472.0 L321.4,472.0 L323.4,472.0 L325.4,472.0 L327.4,472.0 L329.4,472.0 L331.4,472.0 L333.5,472.0 L335.5,472.0 L337.5,472.0 L339.5,472.0 L341.5,472.1 L343.5,472.1 L345.5,472.1 L347.6,472.1 L349.6,472.1 L351.6,472.1 L353.6,472.2 L355.6,472.2 L357.6,472.2 L359.6,472.2 L361.6,472.2 L363.7,472.3 L365.7,472.3 L367.7,472.3 L369.7,472.3 L371.7,472.4 L373.7,472.4 L375.7,472.4 L377.8,472.5 L379.8,472.5 L381.8,472.5 L383.8,472.5 L385.8,472.6 L387.8,472.6 L389.8,472.6 L391.9,472.7 L393.9,472.7 L395.9,472.7 L397.9,472.7 L399.9,472.8 L401.9,472.8 L403.9,472.8 L405.9,472.8 L408.0,472.9 L410.0,472.9 L412.0,472.9 L414.0,472.9 L416.0,473.0 L418.0,473.0 L420.0,473.0 L422.1,473.0 L424.1,473.0 L426.1,473.1 L428.1,473.1 L430.1,473.1 L432.1,473.1 L434.1,473.1 L436.2,473.2 L438.2,473.2 L440.2,473.2 L442.2,473.2 L444.2,473.2 L446.2,473.2 L448.2,473.3 L450.3,473.3 L452.3,473.3 L454.3,473.3 L456.3,473.3 L458.3,473.3 L460.3,473.4 L462.3,473.4 L464.3,473.4 L466.4,473.4 L468.4,473.4 L470.4,473.5 L472.4,473.5 L474.4,473.5 L476.4,473.5 L478.4,473.5 L480.5,473.5 L482.5,473.6 L484.5,473.6 L486.5,473.6 L488.5,473.6 L490.5,473.6 L492.5,473.6 L494.6,473.7 L496.6,473.7 L498.6,473.7 L500.6,473.7 L502.6,473.7 L504.6,473.7 L506.6,473.8 L508.6,473.8 L510.7,473.8 L512.7,473.8 L514.7,473.8 L516.7,473.8 L518.7,473.9 L520.7,473.9 L522.7,473.9 L524.8,473.9 L526.8,473.9 L528.8,473.9 L530.8,474.0 L532.8,474.0 L534.8,474.0 L536.8,474.0 L538.9,474.0 L540.9,474.0 L542.9,474.1 L544.9,474.1 L546.9,474.1 L548.9,474.1 L550.9,474.1 L553.0,474.1 L555.0,474.2 L557.0,474.2 L559.0,474.2 L561.0,474.2 L563.0,474.2 L565.0,474.2 L567.0,474.3 L569.1,474.3 L571.1,474.3 L573.1,474.3 L575.1,474.3 L577.1,474.3 L579.1,474.4 L581.1,474.4 L583.2,474.4 L585.2,474.4 L587.2,474.4 L589.2,474.4 L591.2,474.4 L593.2,474.5 L595.2,474.5 L597.3,474.5 L599.3,474.5 L601.3,474.5 L603.3,474.5 L605.3,474.5 L607.3,474.5 L609.3,474.6 L611.3,474.6 L613.4,474.6 L615.4,474.6 L617.4,474.6 L619.4,474.6 L621.4,474.6 L623.4,474.6 L625.4,474.7 L627.5,474.7 L629.5,474.7 L631.5,474.7 L633.5,474.7 L635.5,474.7 L637.5,474.7 L639.5,474.7 L641.6,474.8 L643.6,474.8 L645.6,474.8 L647.6,474.8 L649.6,474.8 L651.6,474.8 L653.6,474.8 L655.7,474.8 L657.7,474.8 L659.7,474.8 L661.7,474.9 L663.7,474.9 L665.7,474.9 L667.7,474.9 L669.7,474.9 L671.8,474.9 L673.8,474.9 L675.8,474.9 L677.8,474.9 L679.8,474.9 L681.8,475.0 L683.8,475.0 L685.9,475.0 L687.9,475.0 L689.9,475.0 L691.9,475.0" stroke="#0ff" stroke-dasharray="18.2 16.7 3.1 16.7 3.1 16.7" stroke-dashoffset="-0.5"/>
<path d="M691.9,475.0 L693.9,475.0 L695.9,475.0 L698.0,475.0 L700.0,475.0 L702.0,475.0 L704.0,475.0 L706.0,475.0 L708.0,475.0 L710.1,475.0 L712.1,475.0 L714.1,475.0 L716.1,475.0 L718.1,475.0 L720.1,475.0 L722.2,475.0 L724.2,475.0 L726.2,475.0 L728.2,475.0 L730.2,475.0 L732.2,475.0 L734.3,475.0 L736.3,475.0 L738.3,475.0 L740.3,475.0 L742.3,475.0 L744.3,474.9 L746.4,474.9 L748.4,474.9 L750.4,474.9 L752.4,474.9 L754.4,474.9 L756.5,474.9 L758.5,474.9 L760.5,474.9 L762.5,474.9 L764.5,474.9 L766.5,474.9 L768.6,474.9 L770.6,474.9 L772.6,474.9 L774.6,474.9 L776.6,474.9 L778.6,474.9 L780.7,474.9 L782.7,474.8 L784.7,474.8 L786.7,474.8 L788.7,474.8 L790.7,474.8 L792.8,474.8 L794.8,474.8 L796.8,474.8 L798.8,474.8 L800.8,474.8 L802.8,474.8 L804.9,474.8 L806.9,474.8 L808.9,474.8 L810.9,474.8 L812.9,474.8 L815.0,474.8 L817.0,474.8 L819.0,474.7 L821.0,474.7 L823.0,474.7 L825.0,474.7 L827.1,474.7 L829.1,474.7 L831.1,474.7 L833.1,474.7 L835.1,474.7 L837.1,474.7 L839.2,474.7 L841.2,474.7 L843.2,474.7 L845.2,474.7 L847.2,474.6 L849.2,474.6 L851.3,474.6 L853.3,474.6 L855.3,474.6 L857.3,474.6 L859.3,474.6 L861.3,474.6 L863.4,474.6 L865.4,474.6 L867.4,474.6 L869.4,474.6 L871.4,474.5 L873.4,474.5 L875.5,474.5 L877.5,474.5 L879.5,474.5 L881.5,474.5 L883.5,474.5 L885.6,474.5 L887.6,474.5 L889.6,474.5 L891.6,474.4 L893.6,474.4 L895.6,474.4 L897.7,474.4 L899.7,474.4 L901.7,474.4 L903.7,474.4 L905.7,474.4 L907.7,474.4 L909.8,474.4 L911.8,474.3 L913.8,474.3 L915.8,474.3 L917.8,474.3 L919.8,474.3 L921.9,474.3 L923.9,474.3 L925.9,474.3 L927.9,474.3 L929.9,474.2 L931.9,474.2 L934.0,474.2 L936.0,474.2 L938.0,474.2" stroke="#0ff" stroke-dasharray="18.2 16.7 3.1 16.7 3.1 16.7" stroke-dashoffset="0"/>
<path d="M120.0,485.6 L122.0,485.6 L124.0,485.6 L126.0,485.6 L128.1,485.6 L130.1,485.6 L132.1,485.6 L134.1,485.6 L136.1,485.6 L138.1,485.6 L140.2,485.6 L142.2,485.6 L144.2,485.6 L146.2,485.6 L148.2,485.6 L150.2,485.6 L152.3,485.6 L154.3,485.6 L156.3,485.6 L158.3,485.6 L160.3,485.6 L162.3,485.6 L164.3,485.6 L166.4,485.6 L168.4,485.6 L170.4,485.6 L172.4,485.6 L174.4,485.6 L176.4,485.6 L178.4,485.6 L180.5,485.6 L182.5,485.6 L184.5,485.6 L186.5,485.6 L188.5,485.6 L190.5,485.6 L192.5,485.6 L194.6,485.6 L196.6,485.6 L198.6,485.6 L200.6,485.6 L202.6,485.6 L204.6,485.6 L206.6,485.6 L208.7,485.6 L210.7,485.6 L212.7,485.6 L214.7,485.6 L216.7,485.6 L218.7,485.6 L220.7,485.6 L222.8,485.6 L224.8,485.6 L226.8,485.6 L228.8,485.6 L230.8,485.6 L232.8,485.6 L234.8,485.6 L236.9,485.6 L238.9,485.6 L240.9,485.6 L242.9,485.6 L244.9,485.6 L246.9,485.6 L248.9,485.6 L250.9,485.6 L253.0,485.6 L255.0,485.6 L257.0,485.6 L259.0,485.6 L261.0,485.6 L263.0,485.6 L265.0,485.6 L267.1,485.6 L269.1,485.6 L271.1,485.6 L273.1,485.6 L275.1,485.6 L277.1,485.6 L279.1,485.6 L281.1,485.6 L283.2,485.6 L285.2,485.6 L287.2,485.6 L289.2,485.6 L291.2,485.6 L293.2,485.6 L295.2,485.6 L297.2,485.6 L299.3,485.6 L301.3,485.6 L303.3,485.6 L305.3,485.6 L307.3,485.6 L309.3,485.6 L311.3,485.6 L313.3,485.6 L315.4,485.6 L317.4,485.6 L319.4,485.6 L321.4,485.6 L323.4,485.5 L325.4,485.5 L327.4,485.4 L329.4,485.2 L331.4,485.1 L333.5,485.0 L335.5,484.8 L337.5,484.7 L339.5,484.6 L341.5,484.5 L343.5,484.5 L345.5,484.4 L347.5,484.3 L349.6,484.2 L351.6,484.1 L353.6,484.0 L355.6,484.0 L357.6,483.9 L359.6,483.8 L361.6,483.8 L363.6,483.7 L365.7,483.7 L367.7,483.6 L369.7,483.6 L371.7,483.6 L373.7,483.6 L375.7,483.6 L377.7,483.5 L379.8,483.5 L381.8,483.5 L383.8,483.5 L385.8,483.5 L387.8,483.5 L389.8,483.5 L391.8,483.5 L393.8,483.5 L395.9,483.4 L397.9,483.4 L399.9,483.4 L401.9,483.4 L403.9,483.4 L405.9,483.4 L407.9,483.4 L410.0,483.4 L412.0,483.4 L414.0,483.4 L416.0,483.4 L418.0,483.4 L420.0,483.4 L422.0,483.4 L424.1,483.4 L426.1,483.4 L428.1,483.4 L430.1,483.4 L432.1,483.4 L434.1,483.4 L436.1,483.4 L438.2,483.4 L440.2,483.4 L442.2,483.4 L444.2,483.4 L446.2,483.4 L448.2,483.4 L450.2,483.4 L452.3,483.4 L454.3,483.4 L456.3,483.4 L458.3,483.4 L460.3,483.4 L462.3,483.4 L464.3,483.4 L466.4,483.4 L468.4,483.4 L470.4,483.4 L472.4,483.4 L474.4,483.4 L476.4,483.4 L478.4,483.4 L480.5,483.4 L482.5,483.4 L484.5,483.4 L486.5,483.4 L488.5,483.4 L490.5,483.4 L492.5,483.4 L494.5,483.4 L496.6,483.4 L498.6,483.4 L500.6,483.4 L502.6,483.4 L504.6,483.4 L506.6,483.4 L508.6,483.4 L510.7,483.4 L512.7,483.4 L514.7,483.5 L516.7,483.5 L518.7,483.5 L520.7,483.5 L522.7,483.5 L524.8,483.5 L526.8,483.5 L528.8,483.5 L530.8,483.5 L532.8,483.5 L534.8,483.5 L536.8,483.5 L538.9,483.5 L540.9,483.5 L542.9,483.5 L544.9,483.5 L546.9,483.5 L548.9,483.5 L550.9,483.5 L553.0,483.5 L555.0,483.5 L557.0,483.5 L559.0,483.5 L561.0,483.5 L563.0,483.5 L565.0,483.5 L567.1,483.5 L569.1,483.5 L571.1,483.5 L573.1,483.5 L575.1,483.5 L577.1,483.5 L579.1,483.6 L581.1,483.6 L583.2,483.6 L585.2,483.6 L587.2,483.6 L589.2,483.6 L591.2,483.6 L593.2,483.6 L595.2,483.6 L597.3,483.6 L599.3,483.6 L601.3,483.6 L603.3,483.6 L605.3,483.6 L607.3,483.6 L609.3,483.7 L611.4,483.7 L613.4,483.7 L615.4,483.7 L617.4,483.8 L619.4,483.8 L621.4,483.8 L623.4,483.9 L625.4,483.9 L627.5,483.9 L629.5,484.0 L631.5,484.0 L633.5,484.1 L635.5,484.1 L637.5,484.2 L639.5,484.2 L641.6,484.2 L643.6,484.3 L645.6,484.3 L647.6,484.4 L649.6,484.4 L651.6,484.4 L653.6,484.5 L655.7,484.5 L657.7,484.6 L659.7,484.6 L661.7,484.6 L663.7,484.7 L665.7,484.7 L667.7,484.7 L669.7,484.8 L671.8,484.8 L673.8,484.8 L675.8,484.9 L677.8,484.9 L679.8,484.9 L681.8,484.9 L683.8,485.0 L685.9,485.0 L687.9,485.0 L689.9,485.1 L691.9,485.1" stroke="#f0f" stroke-dasharray="7.8 14.45" stroke-dashoffset="0.9"/>
<path d="M691.9,485.1 L693.9,485.1 L695.9,485.2 L698.0,485.2 L700.0,485.2 L702.0,485.2 L704.0,485.2 L706.0,485.2 L708.0,485.2 L710.1,485.2 L712.1,485.2 L714.1,485.3 L716.1,485.3 L718.1,485.3 L720.1,485.3 L722.2,485.3 L724.2,485.3 L726.2,485.3 L728.2,485.3 L730.2,485.3 L732.2,485.3 L734.3,485.3 L736.3,485.3 L738.3,485.3 L740.3,485.3 L742.3,485.3 L744.3,485.4 L746.4,485.4 L748.4,485.4 L750.4,485.4 L752.4,485.4 L754.4,485.4 L756.4,485.4 L758.5,485.4 L760.5,485.4 L762.5,485.4 L764.5,485.4 L766.5,485.4 L768.6,485.4 L770.6,485.4 L772.6,485.4 L774.6,485.4 L776.6,485.4 L778.6,485.4 L780.7,485.4 L782.7,485.4 L784.7,485.5 L786.7,485.5 L788.7,485.5 L790.7,485.5 L792.8,485.5 L794.8,485.5 L796.8,485.5 L798.8,485.5 L800.8,485.5 L802.8,485.5 L804.9,485.5 L806.9,485.5 L808.9,485.5 L810.9,485.5 L812.9,485.5 L814.9,485.5 L817.0,485.5 L819.0,485.5 L821.0,485.5 L823.0,485.5 L825.0,485.5 L827.0,485.5 L829.1,485.5 L831.1,485.5 L833.1,485.5 L835.1,485.5 L837.1,485.5 L839.2,485.5 L841.2,485.5 L843.2,485.5 L845.2,485.6 L847.2,485.6 L849.2,485.6 L851.3,485.6 L853.3,485.6 L855.3,485.6 L857.3,485.6 L859.3,485.6 L861.3,485.6 L863.4,485.6 L865.4,485.6 L867.4,485.6 L869.4,485.6 L871.4,485.6 L873.4,485.6 L875.5,485.6 L877.5,485.6 L879.5,485.6 L881.5,485.6 L883.5,485.6 L885.5,485.6 L887.6,485.6 L889.6,485.6 L891.6,485.6 L893.6,485.6 L895.6,485.6 L897.7,485.6 L899.7,485.6 L901.7,485.6 L903.7,485.6 L905.7,485.6 L907.7,485.6 L909.8,485.6 L911.8,485.6 L913.8,485.6 L915.8,485.6 L917.8,485.6 L919.8,485.6 L921.9,485.6 L923.9,485.6 L925.9,485.6 L927.9,485.6 L929.9,485.6 L931.9,485.6 L934.0,485.6 L936.0,485.6 L938.0,485.6" stroke="#f0f" stroke-dasharray="7.8 14.45" stroke-dashoffset="0"/>
</g>
<g class="c">
<clipPath id="lc"><rect x="360" y="40" width="89" height="320"/></clipPath>
<path d="M370.2,64.8 L446.2,64.8" stroke="#000"/>
<path d="M370.2,121.1 L446.2,121.1" stroke="#f00" stroke-dasharray="20.5 28.5"/>
<path d="M370.2,177.2 L446.2,177.2" stroke="#0f0" stroke-dasharray="3.2 26.1"/>
<path d="M370.2,233.3 L446.2,233.3" stroke="#00f" stroke-dasharray="25.2 16.9 3 16.6"/>
<path d="M370.2,289.4 L446.2,289.4" stroke="#0ff" stroke-dasharray="18.2 16.6 3.1 16.6 3.1 16.6"/>
<path d="M370.2,335.7 L446.2,335.7" stroke="#f0f" stroke-dasharray="7.8 14.6"/>
</g>
<g>
<text x="98.6" y="683.8" text-anchor="end">-50</text>
<text x="98.6" y="590.0" text-anchor="end">-25</text>
<text x="98.6" y="495.8" text-anchor="end">0</text>
<text x="98.6" y="401.9" text-anchor="end">25</text>
<text x="98.6" y="307.2" text-anchor="end">50</text>
<text x="98.6" y="213.8" text-anchor="end">75</text>
<text x="98.6" y="118.9" text-anchor="end">100</text>
<text x="98.6" y="24.8" text-anchor="end">125</text>
<text x="120.0" y="722.1" text-anchor="middle">20</text>
<text x="283.4" y="722.1" text-anchor="middle">24</text>
<text x="446.8" y="722.1" text-anchor="middle">28</text>
<text x="610.2" y="722.1" text-anchor="middle">32</text>
<text x="773.6" y="722.1" text-anchor="middle">36</text>
<text x="937.0" y="722.1" text-anchor="middle">40</text>
<text x="529.5" y="780.5" text-anchor="middle">Frequency (GHz)</text>
<text transform="translate(19,415.5) rotate(-90)" style="font-family:'Liberation Serif',serif;font-size:36.5px">ε</text>
<text transform="translate(26.6,399.4) rotate(-90)">r</text>
<text transform="translate(19,386) rotate(-90)">,</text>
<text transform="translate(19,356.5) rotate(-90)" style="font-family:'Liberation Serif',serif;font-size:36.5px" textLength="18.4" lengthAdjust="spacingAndGlyphs">μ</text>
<text transform="translate(26.6,341.8) rotate(-90)">r</text>
<text transform="translate(19,327) rotate(-90)">,</text>
<text transform="translate(19,296.7) rotate(-90)" style="font-family:'Liberation Serif',serif;font-size:36.5px">η</text>
<text x="455.6" y="77.2">Permitivity (</text>
<text x="651.3" y="77.2" style="font-family:'Liberation Serif',serif;font-size:36.5px">ε</text>
<text x="667.3" y="85.7">r</text>
<text x="680.3" y="77.2">) real</text>
<text x="455.6" y="133.5">Permitivity (</text>
<text x="651.3" y="133.5" style="font-family:'Liberation Serif',serif;font-size:36.5px">ε</text>
<text x="667.3" y="142.0">r</text>
<text x="680.3" y="133.5">) imaginary</text>
<text x="455.6" y="189.6">Permeability (</text>
<text x="680.7" y="189.6" style="font-family:'Liberation Serif',serif;font-size:36.5px" textLength="18.4" lengthAdjust="spacingAndGlyphs">μ</text>
<text x="700.6" y="198.1">r</text>
<text x="712.9" y="189.6">) real</text>
<text x="455.6" y="245.7">Permitivity (</text>
<text x="652.5" y="245.7" style="font-family:'Liberation Serif',serif;font-size:36.5px" textLength="18.4" lengthAdjust="spacingAndGlyphs">μ</text>
<text x="672.1" y="254.2">r</text>
<text x="684.4" y="245.7">) imaginary</text>
<text x="455.6" y="301.8">Refrective (</text>
<text x="641.2" y="301.8" style="font-family:'Liberation Serif',serif;font-size:36.5px">η</text>
<text x="663.5" y="301.8">) index</text>
<text x="455.6" y="348.1">Refrective (</text>
<text x="641.2" y="348.1" style="font-family:'Liberation Serif',serif;font-size:36.5px">η</text>
<text x="663.5" y="348.1">) imaginary</text>
</g>
</svg>
</body></html>
